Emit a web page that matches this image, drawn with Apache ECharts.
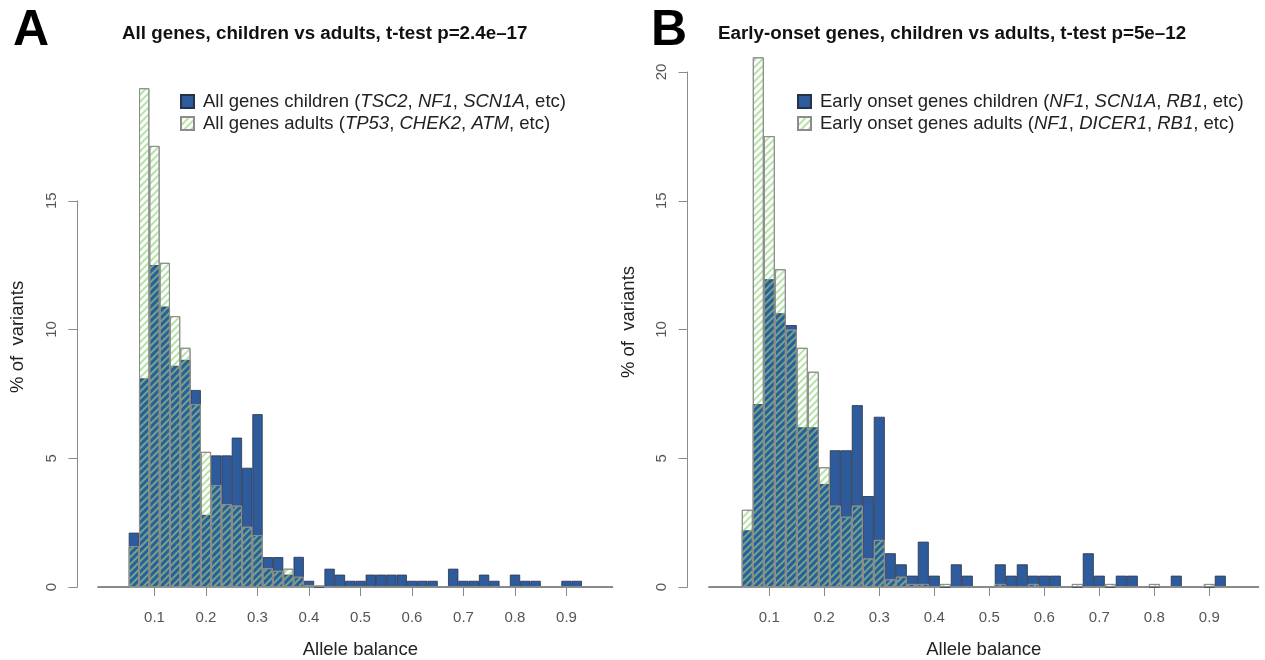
<!DOCTYPE html>
<html><head><meta charset="utf-8">
<script src="https://cdn.jsdelivr.net/npm/echarts@6/dist/echarts.min.js"></script>
<style>html,body{margin:0;padding:0;background:#fff}#c{width:1265px;height:660px}</style>
</head><body><div id="c"></div>
<script>
// ---------- data ----------
const binCenters = [0.00,0.02,0.04,0.06,0.08,0.10,0.12,0.14,0.16,0.18,0.20,0.22,0.24,0.26,0.28,0.30,0.32,0.34,0.36,0.38,0.40,0.42,0.44,0.46,0.48,0.50,0.52,0.54,0.56,0.58,0.60,0.62,0.64,0.66,0.68,0.70,0.72,0.74,0.76,0.78,0.80,0.82,0.84,0.86,0.88,0.90,0.92,0.94,0.96,0.98];
const binWidth = 0.02;
const xTickValues = [0.1,0.2,0.3,0.4,0.5,0.6,0.7,0.8,0.9];

const childrenA = [0,0,0,2.11,8.10,12.50,10.89,8.59,8.82,7.65,2.80,5.11,5.11,5.80,4.63,6.71,1.16,1.16,0.48,1.17,0.24,0,0.71,0.48,0.24,0.24,0.48,0.48,0.48,0.48,0.24,0.24,0.24,0,0.71,0.24,0.24,0.48,0.24,0,0.48,0.24,0.24,0,0,0.24,0.24,0,0,0];
const adultsA   = [0,0,0,1.59,19.37,17.13,12.59,10.52,9.29,7.10,5.25,3.96,3.22,3.16,2.34,2.02,0.73,0.63,0.71,0.40,0.08,0.06,0,0,0,0,0,0,0,0,0,0,0,0,0,0,0,0,0,0,0,0,0,0,0,0,0,0,0,0];
const childrenB = [0,0,0,2.20,7.10,11.95,10.63,10.17,6.20,6.20,4.00,5.31,5.31,7.06,3.53,6.61,1.31,0.88,0.44,1.76,0.44,0,0.88,0.44,0,0,0.88,0.44,0.88,0.44,0.44,0.44,0,0,1.31,0.44,0,0.44,0.44,0,0,0,0.44,0,0,0,0.44,0,0,0];
const adultsB   = [0,0,0,3.00,20.57,17.51,12.34,10.00,9.29,8.36,4.65,3.16,2.73,3.16,1.11,1.83,0.30,0.40,0.12,0.12,0,0.12,0,0,0,0,0.12,0,0,0.12,0,0,0,0.12,0,0,0.12,0,0,0,0.12,0,0,0,0,0.12,0,0,0,0];

const yTickMaxA = 15;
const yTickMaxB = 20;

const seriesNames = {
  childrenA: 'All genes children', adultsA: 'All genes adults',
  childrenB: 'Early onset genes children', adultsB: 'Early onset genes adults'
};
const legendGenes = {
  'All genes children': ['TSC2','NF1','SCN1A'],
  'All genes adults': ['TP53','CHEK2','ATM'],
  'Early onset genes children': ['NF1','SCN1A','RB1'],
  'Early onset genes adults': ['NF1','DICER1','RB1']
};
const panelLetters = ['A','B'];
const panelTitles = ['All genes, children vs adults, t-test p=2.4e\u201317','Early-onset genes, children vs adults, t-test p=5e\u201312'];
const xTitle = 'Allele balance';
const yTitle = '% of  variants';

// ---------- styling ----------
const FONT = '"Liberation Sans", Arial, Helvetica, sans-serif';
const BLUE = '#2e5b9c';
const PX_PER_UNIT = 25.75;
const ZERO_Y = 587;
const xMin = binCenters[0] - binWidth/2, xMax = binCenters[binCenters.length-1] + binWidth/2;

const panels = [
  {left: 97.85, width: 515, yMax: yTickMaxA, offset: 20.5, children: childrenA, adults: adultsA, cName: seriesNames.childrenA, aName: seriesNames.adultsA, legendLeft: 175, titleLeft: 122, letterLeft: 13, ytX: 18, xNamePad: 10},
  {left: 708.8, width: 550, yMax: yTickMaxB, offset: 21.3, children: childrenB, adults: adultsB, cName: seriesNames.childrenB, aName: seriesNames.adultsB, legendLeft: 792, titleLeft: 718, letterLeft: 651, ytX: 628.5, xNamePad: 0}
];

const decal = {
  symbol: 'rect', symbolSize: 1,
  color: 'rgba(140,210,120,0.65)', backgroundColor: 'rgba(0,0,0,0)',
  dashArrayX: [1, 0], dashArrayY: [1.5, 3], rotation: -Math.PI / 4
};

const grids = [], xAxes = [], yAxes = [], series = [], legends = [], titles = [], graphics = [];
panels.forEach((p, i) => {
  const h = p.yMax * PX_PER_UNIT;
  const top = ZERO_Y - h;
  grids.push({left: p.left, top: top, width: p.width, height: h, containLabel: false, outerBoundsMode: 'none'});
  xAxes.push({
    type: 'value', gridIndex: i, min: xMin, max: xMax,
    axisLine: {show: true, onZero: false, lineStyle: {color: '#9a9a9a', width: 1}},
    axisTick: {show: true, length: 9, customValues: xTickValues, lineStyle: {color: '#8a8a8a'}},
    axisLabel: {customValues: xTickValues, margin: 23, color: '#555', fontSize: 15, fontFamily: FONT,
                formatter: v => String(Math.round(v * 10) / 10)},
    splitLine: {show: false},
    name: xTitle, nameLocation: 'middle', nameGap: 53,
    nameTextStyle: {fontSize: 18.5, color: '#222', fontFamily: FONT, padding: [0, 0, 0, p.xNamePad]}
  });
  yAxes.push({
    type: 'value', gridIndex: i, min: 0, max: p.yMax, interval: 5, offset: p.offset,
    axisLine: {show: true, onZero: false, lineStyle: {color: '#8a8a8a', width: 1}},
    axisTick: {show: true, length: 9, lineStyle: {color: '#8a8a8a'}},
    axisLabel: {rotate: 90, margin: 18, color: '#555', fontSize: 15, fontFamily: FONT},
    splitLine: {show: false}
  });
  const barW = p.width * binWidth / (xMax - xMin);
  series.push({
    name: p.cName, type: 'bar', xAxisIndex: i, yAxisIndex: i, clip: false,
    barWidth: barW, barGap: '-100%',
    data: binCenters.map((c, k) => [c, p.children[k]]),
    itemStyle: {color: BLUE, borderColor: '#26324a', borderWidth: 0.8},
    emphasis: {disabled: true}, animation: false
  });
  series.push({
    name: p.aName, type: 'bar', xAxisIndex: i, yAxisIndex: i, clip: false,
    barWidth: barW, barGap: '-100%',
    data: binCenters.map((c, k) => [c, p.adults[k]]),
    itemStyle: {color: 'rgba(255,255,255,0)', borderColor: '#8c8c8c', borderWidth: 1, decal: decal},
    emphasis: {disabled: true}, animation: false
  });
  legends.push({
    data: [p.cName, p.aName], orient: 'vertical', left: p.legendLeft, top: 87,
    icon: 'rect', itemWidth: 13, itemHeight: 13, itemGap: 3, selectedMode: false,
    formatter: name => name + ' (' + legendGenes[name].map(g => '{i|' + g + '}').join(', ') + ', etc)',
    textStyle: {fontSize: 18.5, color: '#222', fontFamily: FONT, padding: [0, 0, 0, 4],
      rich: {i: {fontStyle: 'italic', fontSize: 18.5, color: '#222', fontFamily: FONT}}}
  });
  titles.push({text: panelLetters[i], left: p.letterLeft - 5, top: 1,
    textStyle: {fontSize: 50, fontWeight: 'bold', color: '#000', fontFamily: FONT}});
  titles.push({text: panelTitles[i], left: p.titleLeft - 5, top: 19,
    textStyle: {fontSize: 18.8, fontWeight: 'bold', color: '#111', fontFamily: FONT}});
  graphics.push({type: 'text', x: p.ytX, y: (ZERO_Y + top - (i === 0 ? 114 : 15)) / 2, rotation: Math.PI / 2,
    style: {text: yTitle, fill: '#222', font: '18.5px ' + FONT, textAlign: 'center', textVerticalAlign: 'middle'}});
});

const chart = echarts.init(document.getElementById('c'), null, {renderer: 'canvas'});
chart.setOption({
  animation: false,
  backgroundColor: '#fff',
  title: titles, grid: grids, xAxis: xAxes, yAxis: yAxes, legend: legends, series: series, graphic: graphics
});
</script></body></html>
